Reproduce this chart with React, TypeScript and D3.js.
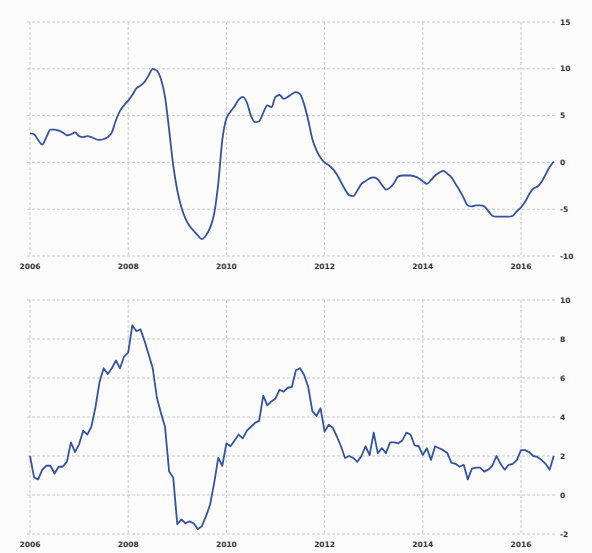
import React from "react";
import * as d3 from "d3";

const startYear = 2006;
const xTicks = [2006, 2008, 2010, 2012, 2014, 2016];
const topTicks = [-10, -5, 0, 5, 10, 15];
const bottomTicks = [-2, 0, 2, 4, 6, 8, 10];

const topValues = [
  3.1, 3.0, 2.4, 1.9, 2.7, 3.5, 3.5, 3.4, 3.2, 2.9, 3.0, 3.2,
  2.8, 2.7, 2.8, 2.7, 2.5, 2.4, 2.5, 2.7, 3.2, 4.5, 5.5, 6.1,
  6.6, 7.2, 7.9, 8.2, 8.6, 9.3, 10.0, 9.8, 8.9, 7.0, 3.5, -0.3,
  -3.0, -4.8, -6.0, -6.8, -7.3, -7.8, -8.2, -7.8, -7.0, -5.5, -2.3, 2.4,
  4.7, 5.4, 6.0, 6.7, 7.0, 6.4, 5.0, 4.3, 4.4, 5.3, 6.1, 5.9,
  7.0, 7.2, 6.8, 7.0, 7.3, 7.5, 7.3, 6.2, 4.5, 2.5, 1.3, 0.5,
  0.0, -0.3, -0.7, -1.3, -2.1, -2.9, -3.5, -3.6, -3.0, -2.3, -2.0, -1.7,
  -1.6, -1.8, -2.4, -2.9, -2.7, -2.2, -1.5, -1.4, -1.4, -1.4, -1.5, -1.7,
  -2.0, -2.3, -1.9, -1.4, -1.1, -0.9, -1.2, -1.6, -2.3, -3.0, -3.8, -4.6,
  -4.7, -4.6, -4.6, -4.7, -5.2, -5.7, -5.8, -5.8, -5.8, -5.8, -5.7, -5.2,
  -4.8, -4.2, -3.4, -2.8, -2.6, -2.1, -1.3, -0.5, 0.1,
];

const bottomValues = [
  2.0, 0.9, 0.8, 1.3, 1.5, 1.5, 1.1, 1.45, 1.45, 1.7, 2.7, 2.2,
  2.6, 3.3, 3.1, 3.5, 4.5, 5.8, 6.5, 6.2, 6.5, 6.9, 6.5, 7.1,
  7.3, 8.7, 8.4, 8.5, 7.9, 7.2, 6.5, 5.0, 4.2, 3.5, 1.2, 0.9,
  -1.5, -1.25, -1.45, -1.35, -1.45, -1.75, -1.6, -1.1, -0.5, 0.6, 1.9, 1.5,
  2.65, 2.5, 2.8, 3.1, 2.9, 3.3, 3.5, 3.7, 3.8, 5.1, 4.6, 4.8,
  4.95, 5.4, 5.3, 5.5, 5.55, 6.4, 6.5, 6.15, 5.55, 4.3, 4.05, 4.45,
  3.25, 3.6, 3.45, 3.0, 2.5, 1.9, 2.0, 1.9, 1.7, 2.0, 2.5, 2.05,
  3.2, 2.15, 2.4, 2.15, 2.7, 2.7, 2.65, 2.8, 3.2, 3.1, 2.55, 2.5,
  2.05, 2.4, 1.8, 2.5, 2.4, 2.3, 2.15, 1.65, 1.6, 1.45, 1.55, 0.8,
  1.35, 1.4, 1.4, 1.2, 1.3, 1.5, 2.0, 1.6, 1.3, 1.55, 1.6, 1.8,
  2.3, 2.3, 2.2, 2.0, 1.95, 1.8, 1.6, 1.3, 2.0,
];

const W = 592;
const H = 553;
const plotLeft = 27;
const plotRight = 556;

const x = d3.scaleLinear().domain([2006, 2016]).range([30, 521]);

type PanelProps = {
  values: number[];
  ticks: number[];
  domain: [number, number];
  range: [number, number];
  smooth: boolean;
};

function Panel({ values, ticks, domain, range, smooth }: PanelProps) {
  const y = d3.scaleLinear().domain(domain).range(range);
  const data = values.map((v, i) => ({ t: startYear + i / 12, v }));
  const line = d3
    .line<{ t: number; v: number }>()
    .x((d) => x(d.t))
    .y((d) => y(d.v))
    .curve(smooth ? d3.curveMonotoneX : d3.curveLinear);
  const top = y(domain[1]);
  const bottom = y(domain[0]);
  const font = "DejaVu Sans, Arial, sans-serif";
  return (
    <g>
      {ticks.map((t) => (
        <g key={"h" + t}>
          <line
            x1={plotLeft}
            x2={plotRight}
            y1={y(t)}
            y2={y(t)}
            stroke="#c8c8c8"
            strokeWidth={1}
            strokeDasharray="3,2"
          />
          <text
            x={plotRight + 4}
            y={y(t)}
            dy="0.35em"
            fontSize={7.5}
            fontWeight="bold"
            fontFamily={font}
            fill="#333"
          >
            {t}
          </text>
        </g>
      ))}
      {xTicks.map((t) => (
        <g key={"v" + t}>
          <line
            x1={x(t)}
            x2={x(t)}
            y1={top}
            y2={bottom}
            stroke="#c8c8c8"
            strokeWidth={1}
            strokeDasharray="3,2"
          />
          <text
            x={x(t)}
            y={bottom + 13}
            textAnchor="middle"
            fontSize={7.5}
            fontWeight="bold"
            fontFamily={font}
            fill="#333"
          >
            {t}
          </text>
        </g>
      ))}
      <path d={line(data) || ""} fill="none" stroke="#3453a6" strokeWidth={1.8} strokeLinejoin="round" />
    </g>
  );
}

export default function App() {
  return (
    <svg
      width={W}
      height={H}
      style={{ position: "absolute", left: 0, top: 0, display: "block" }}
    >
      <rect x={0} y={0} width={W} height={H} fill="#fbfcfb" />
      <Panel values={topValues} ticks={topTicks} domain={[-10, 15]} range={[256, 22]} smooth={true} />
      <Panel values={bottomValues} ticks={bottomTicks} domain={[-2, 10]} range={[534, 300]} smooth={false} />
    </svg>
  );
}
